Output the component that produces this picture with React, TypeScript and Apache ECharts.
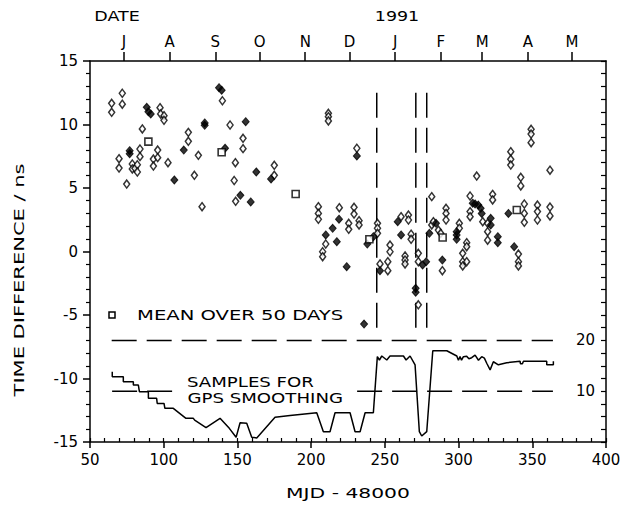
import React, { useEffect, useRef } from 'react';
import * as echarts from 'echarts';

const FONT = 'DejaVu Sans';

// MJD - 48000, time difference (ns)
const openDiamonds: [number, number][] = [
  [64.7, 11.67], [64.7, 10.96], [71.9, 12.46], [71.9, 11.6], [69.7, 7.31], [69.7, 6.57], [74.9, 5.31],
  [78.7, 6.89], [78.7, 6.5], [80.5, 6.55], [82.1, 6.83], [82.1, 6.26], [83.9, 8.07], [83.9, 7.47],
  [85.5, 9.65], [93, 7.28], [93, 6.73], [95.9, 7.99], [95.9, 7.39], [97.5, 11.32], [97.9, 10.83],
  [100.2, 10.69], [100.2, 10.33], [102.9, 6.99], [116.7, 9.38], [116.7, 8.68], [120.8, 6.0],
  [123.5, 7.57], [126, 3.53], [139.8, 11.87], [145, 9.96], [148.6, 6.99], [147.8, 5.59],
  [153.8, 8.91], [153.8, 8.1], [148.8, 3.95], [175, 6.79], [175, 6.0],
  [211.7, 10.88], [211.7, 10.62], [211.7, 10.28], [231, 8.13], [204.9, 3.53], [204.9, 3.0],
  [204.9, 2.54], [209.9, 0.59], [207.8, -0.02], [207.8, -0.41], [219.1, 3.45], [229.1, 3.48],
  [229.1, 2.95], [232.5, 2.43], [232.5, 2.09], [225.5, 2.22], [225.5, 1.75], [245, 2.22],
  [245, 1.83], [245, 1.43], [246.7, -0.98], [252, -0.8], [252, -1.51], [253.5, 0.51],
  [253.5, -0.02], [261, 2.74], [263.7, -0.35], [263.7, -0.67], [263.7, -0.98], [266, 2.87],
  [266, 2.48], [267.8, 1.36], [267.8, 0.96], [272.7, -0.14], [272.7, -0.8], [272.7, -4.2],
  [281.8, 4.32], [281.8, 2.09], [282.9, 2.35], [286.3, 1.69], [287.9, 1.43], [289, -1.51],
  [291.5, 3.4], [291.5, 3.0], [291.5, 2.48], [300.5, 2.22], [300.5, 1.83], [302.8, -0.14],
  [302.8, -0.8], [302.8, -1.14], [305.5, 0.69], [305.5, 0.38], [305.5, -0.8], [307.8, 3.14],
  [307.8, 2.74], [307.8, 4.37], [312.3, 5.94], [316.4, 2.35], [319.7, 2.22], [319.7, 1.56],
  [319.7, 0.89], [323.1, 4.5], [323.1, 4.06], [335.4, 7.86], [335.4, 7.26], [335.4, 6.81],
  [340.6, -0.2], [340.6, -0.8], [340.6, -1.14], [342.2, 5.84], [342.2, 5.16], [344.6, 3.74],
  [344.6, 3.0], [344.6, 2.3], [349.2, 9.62], [349.2, 9.25], [349.2, 8.57], [353.5, 3.66],
  [353.5, 3.14], [353.5, 2.48], [362, 6.4], [362, 3.5], [362, 2.8],
];

const filledDiamonds: [number, number][] = [
  [76.9, 7.94], [76.9, 7.7], [88.5, 11.35], [89.6, 11.0], [91.2, 10.83], [107.2, 5.63],
  [113.6, 7.99], [127.8, 10.12], [127.8, 9.94], [137.5, 12.9], [139.3, 12.7], [141.6, 8.13],
  [155.6, 10.22], [152, 4.42], [159, 3.9], [162.8, 6.26], [172.8, 5.71],
  [231, 7.52], [218.9, 2.54], [209.9, 1.3], [214.6, 1.83], [217.4, 0.77], [224.1, -1.2],
  [235.9, -5.71], [238.1, 0.59], [242.2, 1.17], [246.7, -1.51], [258.7, 2.35], [261, 1.3],
  [270.9, -2.9], [270.9, -3.2], [275.6, -1.06], [278, -0.8], [280.2, 1.43], [284.7, 2.22],
  [289, -0.67], [298.7, 1.56], [298.7, 1.3], [298.7, 0.96], [309.6, 3.8], [311.2, 3.74],
  [313.4, 3.66], [315, 3.4], [315.7, 3.0], [321.8, 2.61], [321.8, 2.09], [326.6, 1.17],
  [326.6, 0.69], [333.8, 3.0], [337.7, 0.38],
];

const means50: [number, number][] = [
  [89.6, 8.65], [139.3, 7.81], [189.5, 4.53], [239.5, 0.96], [289.2, 1.1], [339.5, 3.27],
];

// samples for GPS smoothing (right axis)
const sampleX = [
  65.1, 65.1, 72.6, 72.6, 79.4, 79.4, 82.8, 83.5, 89.6, 89.6, 95.2, 95.6, 100.2, 100.8, 106.5,
  115.1, 120.1, 121, 128.7, 138.2, 144.5, 149.1, 151.8, 156.3, 159.7, 163.1, 175.5, 185.7,
  203.8, 208.3, 212.8, 216.2, 226.4, 229.8, 233.2, 236.6, 242.2, 244.9, 246.3, 247.9, 251.3,
  253.5, 262.6, 264.4, 267.1, 270.5, 273.4, 275, 278.4, 282.5, 292, 298.8, 299.9, 301, 302,
  303.3, 305.5, 307, 308.9, 311.2, 313.5, 315.7, 317.5, 319.1, 321.4, 323.6, 327, 332.7,
  341.7, 342, 343.3, 344, 359.8, 359.8, 364.3, 364.3,
];
const sampleN = [
  13.84, 12.85, 12.85, 11.87, 11.87, 11.2, 11.2, 9.9, 9.9, 8.6, 8.6, 7.6, 7.6, 6.63, 6.63,
  4.66, 4.66, 4.3, 2.82, 4.66, 2.69, 0.92, 3.8, 3.7, 0.92, 0.8, 4.86, 5.2,
  5.77, 2.03, 2.03, 5.77, 5.77, 2.03, 2.03, 5.77, 5.77, 16.8, 16.14, 16.93, 16.14,
  16.93, 16.93, 16.14, 16.93, 15.16, 2.03, 1.18, 2.03, 17.97, 17.97, 16.93, 16.1, 16.8, 16.1,
  16.8, 16.9, 16.4, 16.6, 17.1, 16.1, 16.8, 16.5, 15.5, 14.2, 15.8, 15.2, 15.6,
  15.9, 15.4, 15.4, 15.9, 15.9, 15.2, 15.2, 15.9,
];

const upperRef: [number, number][] = [[64.7, 20], [364, 20]];
const lowerRef: [number, number][] = [[65, 10], [364, 10]];
const windowEdges = [244.5, 271, 278.4];
const windowTop = 12.5;
const windowBottom = -6;

const monthStarts = [73, 104, 135, 165, 196, 226, 257, 288, 316, 347, 377];
const monthLabels = ['J', 'A', 'S', 'O', 'N', 'D', 'J', 'F', 'M', 'A', 'M'];

const X_MIN = 50;
const X_MAX = 400;

export default function App() {
  const ref = useRef<HTMLDivElement>(null);
  useEffect(() => {
    if (!ref.current) return;
    const chart = echarts.init(ref.current, undefined, { renderer: 'svg' });
    const topCats: string[] = [];
    for (let d = X_MIN; d <= X_MAX; d++) topCats.push(String(d));
    const monthMap = new Map<string, string>(monthStarts.map((m, i) => [String(m), monthLabels[i]]));
    const black = '#000';
    const textBase = { fontFamily: FONT, fill: black };
    const dash = { color: black, width: 1.5, type: [25, 10] as any };

    chart.setOption({
      animation: false,
      backgroundColor: '#fff',
      grid: { left: 90, right: 19, top: 61, bottom: 64 },
      xAxis: [
        {
          type: 'value', min: X_MIN, max: X_MAX, interval: 50, position: 'bottom',
          axisLine: { show: true, onZero: false, lineStyle: { color: black, width: 1.5 } },
          axisTick: { show: true, inside: false, length: 6, lineStyle: { color: black, width: 1.5 } },
          axisLabel: { color: black, fontSize: 15, fontFamily: FONT, margin: 10 },
          splitLine: { show: false },
        },
        {
          type: 'value', min: X_MIN, max: X_MAX, interval: 10, position: 'bottom',
          axisLine: { show: false, onZero: false },
          axisTick: { show: true, inside: true, length: 4, lineStyle: { color: black, width: 1.2 } },
          axisLabel: { show: false },
          splitLine: { show: false },
        },
        {
          type: 'category', data: topCats, position: 'top', boundaryGap: false,
          axisLine: { show: true, onZero: false, lineStyle: { color: black, width: 1.5 } },
          axisTick: {
            show: true, inside: false, length: 9,
            interval: (_i: number, v: string) => monthMap.has(v),
            lineStyle: { color: black, width: 1.5 },
          },
          axisLabel: {
            interval: (_i: number, v: string) => monthMap.has(v),
            formatter: (v: string) => monthMap.get(v) ?? '',
            color: black, fontSize: 15, fontFamily: FONT, margin: 12,
          },
          splitLine: { show: false },
        },
      ],
      yAxis: [
        {
          type: 'value', min: -15, max: 15, interval: 5, position: 'left',
          axisLine: { show: true, onZero: false, lineStyle: { color: black, width: 1.5 } },
          axisTick: { show: true, inside: false, length: 7, lineStyle: { color: black, width: 1.5 } },
          minorTick: { show: true, splitNumber: 5, length: 4, lineStyle: { color: black, width: 1.2 } },
          axisLabel: { color: black, fontSize: 15, fontFamily: FONT, margin: 12 },
          splitLine: { show: false },
        },
        {
          type: 'value', min: 0, max: 75, interval: 2.5, position: 'right',
          axisLine: { show: true, onZero: false, lineStyle: { color: black, width: 1.5 } },
          axisTick: { show: true, inside: true, length: 5, lineStyle: { color: black, width: 1.2 } },
          axisLabel: {
            inside: true, margin: 11, color: black, fontSize: 15, fontFamily: FONT,
            formatter: (v: number) => (v === 10 || v === 20 ? String(v) : ''),
          },
          splitLine: { show: false },
        },
      ],
      series: [
        {
          type: 'line', xAxisIndex: 0, yAxisIndex: 1,
          data: sampleX.map((x, i) => [x, sampleN[i]]),
          symbol: 'none', lineStyle: { color: black, width: 1.5 }, z: 3, silent: true,
        },
        { type: 'line', xAxisIndex: 0, yAxisIndex: 1, data: upperRef, symbol: 'none', lineStyle: dash, silent: true },
        { type: 'line', xAxisIndex: 0, yAxisIndex: 1, data: lowerRef, symbol: 'none', lineStyle: dash, silent: true },
        ...windowEdges.map((x) => ({
          type: 'line', xAxisIndex: 0, yAxisIndex: 0,
          data: [[x, windowTop], [x, windowBottom]],
          symbol: 'none', lineStyle: dash, silent: true,
        })),
        {
          type: 'scatter', xAxisIndex: 0, yAxisIndex: 0, data: openDiamonds,
          symbol: 'diamond', symbolSize: [6, 8],
          itemStyle: { color: '#fff', borderColor: black, borderWidth: 1.5 }, z: 4, silent: true,
        },
        {
          type: 'scatter', xAxisIndex: 0, yAxisIndex: 0, data: filledDiamonds,
          symbol: 'diamond', symbolSize: [7, 8],
          itemStyle: { color: black, borderColor: black, borderWidth: 1 }, z: 5, silent: true,
        },
        {
          type: 'scatter', xAxisIndex: 0, yAxisIndex: 0, data: means50,
          symbol: 'rect', symbolSize: 7,
          itemStyle: { color: '#fff', borderColor: black, borderWidth: 1.6 }, z: 6, silent: true,
        },
      ],
      graphic: [
        { type: 'text', x: 117, y: 16, scaleX: 1.25, z: 10,
          style: { ...textBase, text: 'DATE', fontSize: 14, textAlign: 'center', textVerticalAlign: 'middle' } },
        { type: 'text', x: 397, y: 16, scaleX: 1.25, z: 10,
          style: { ...textBase, text: '1991', fontSize: 14, textAlign: 'center', textVerticalAlign: 'middle' } },
        { type: 'text', x: 348, y: 493, scaleX: 1.45, z: 10,
          style: { ...textBase, text: 'MJD - 48000', fontSize: 14, textAlign: 'center', textVerticalAlign: 'middle' } },
        { type: 'text', x: 19, y: 280, rotation: Math.PI / 2, scaleX: 1.5, z: 10,
          style: { ...textBase, text: 'TIME DIFFERENCE / ns', fontSize: 14, textAlign: 'center', textVerticalAlign: 'middle' } },
        { type: 'rect', x: 109, y: 312, z: 10, shape: { width: 6, height: 6 },
          style: { fill: '#fff', stroke: black, lineWidth: 1.5 } },
        { type: 'text', x: 137, y: 315, scaleX: 1.35, z: 10,
          style: { ...textBase, text: 'MEAN OVER 50 DAYS', fontSize: 14.5, textAlign: 'left', textVerticalAlign: 'middle' } },
        { type: 'text', x: 187, y: 382, scaleX: 1.25, z: 10,
          style: { ...textBase, text: 'SAMPLES FOR', fontSize: 14.5, textAlign: 'left', textVerticalAlign: 'middle' } },
        { type: 'text', x: 180, y: 398, scaleX: 1.25, z: 10,
          style: { ...textBase, text: 'GPS SMOOTHING', fontSize: 14.5, textAlign: 'left', textVerticalAlign: 'middle',
            backgroundColor: '#fff', padding: [3, 6] } },
      ],
    });
    return () => chart.dispose();
  }, []);
  return (
    <div
      ref={ref}
      style={{ position: 'fixed', left: 0, top: 0, width: 625, height: 506, background: '#fff' }}
    />
  );
}
